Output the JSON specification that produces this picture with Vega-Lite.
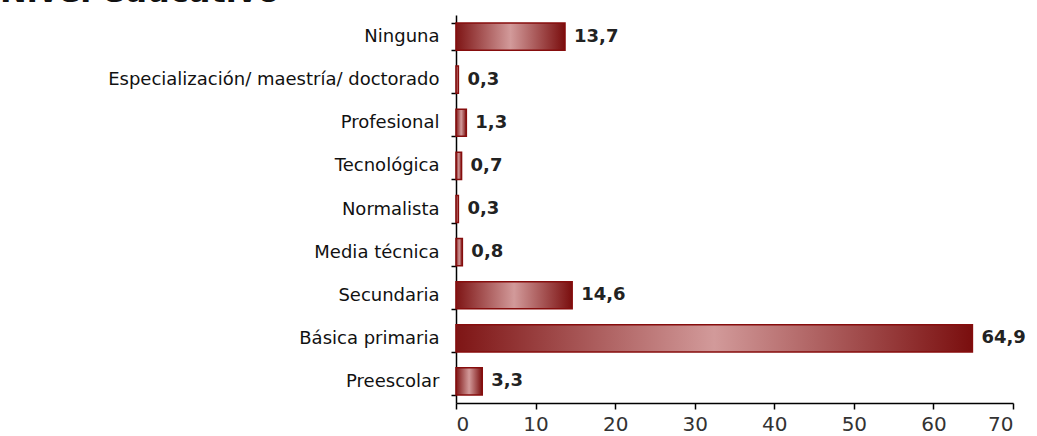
{
  "$schema": "https://vega.github.io/schema/vega-lite/v6.json",
  "autosize": {"type": "none"},
  "width": 557,
  "height": 388,
  "padding": {"left": 456, "top": 15, "right": 24, "bottom": 33},
  "background": "white",
  "title": {
    "text": "Nivel educativo",
    "anchor": "start",
    "frame": "group",
    "dx": -456,
    "dy": 33,
    "baseline": "alphabetic",
    "offset": 5,
    "font": "DejaVu Sans",
    "fontSize": 32,
    "fontWeight": "bold",
    "color": "#111"
  },
  "config": {
    "locale": {"number": {"decimal": ",", "thousands": ".", "grouping": [3], "currency": ["", ""]}},
    "view": {"stroke": null}
  },
  "data": {
    "values": [
      {"nivel": "Ninguna", "pct": 13.7},
      {"nivel": "Especialización/ maestría/ doctorado", "pct": 0.3},
      {"nivel": "Profesional", "pct": 1.3},
      {"nivel": "Tecnológica", "pct": 0.7},
      {"nivel": "Normalista", "pct": 0.3},
      {"nivel": "Media técnica", "pct": 0.8},
      {"nivel": "Secundaria", "pct": 14.6},
      {"nivel": "Básica primaria", "pct": 64.9},
      {"nivel": "Preescolar", "pct": 3.3}
    ]
  },
  "encoding": {
    "y": {
      "field": "nivel",
      "type": "nominal",
      "sort": null,
      "title": null,
      "scale": {"paddingInner": 0.37, "paddingOuter": 0.185},
      "axis": {
        "domainColor": "#000",
        "domainWidth": 1.5,
        "tickColor": "#000",
        "tickWidth": 1.5,
        "tickSize": 5,
        "tickBand": "extent",
        "labelFont": "DejaVu Sans",
        "labelFontSize": 18,
        "labelColor": "#111",
        "labelPadding": 12,
        "labelLimit": 500
      }
    },
    "x": {
      "field": "pct",
      "type": "quantitative",
      "title": null,
      "scale": {"domain": [0, 70], "nice": false},
      "axis": {
        "values": [0, 10, 20, 30, 40, 50, 60, 70],
        "grid": false,
        "domainColor": "#000",
        "domainWidth": 1.5,
        "tickColor": "#000",
        "tickWidth": 1.5,
        "tickSize": 6,
        "labelFont": "DejaVu Sans",
        "labelFontSize": 20,
        "labelColor": "#333",
        "labelPadding": 5
      }
    }
  },
  "layer": [
    {
      "mark": {
        "type": "bar",
        "stroke": "#860d0d",
        "strokeWidth": 1.5,
        "color": {
          "gradient": "linear",
          "x1": 0, "y1": 0, "x2": 1, "y2": 0,
          "stops": [
            {"offset": 0, "color": "#7e1515"},
            {"offset": 0.5, "color": "#d29a9a"},
            {"offset": 1, "color": "#7a0e0e"}
          ]
        }
      }
    },
    {
      "mark": {
        "type": "text",
        "align": "left",
        "baseline": "middle",
        "dx": 9,
        "font": "DejaVu Sans",
        "fontSize": 18,
        "fontWeight": "bold",
        "color": "#222"
      },
      "encoding": {
        "text": {"field": "pct", "type": "quantitative", "format": ".1f"}
      }
    }
  ]
}
